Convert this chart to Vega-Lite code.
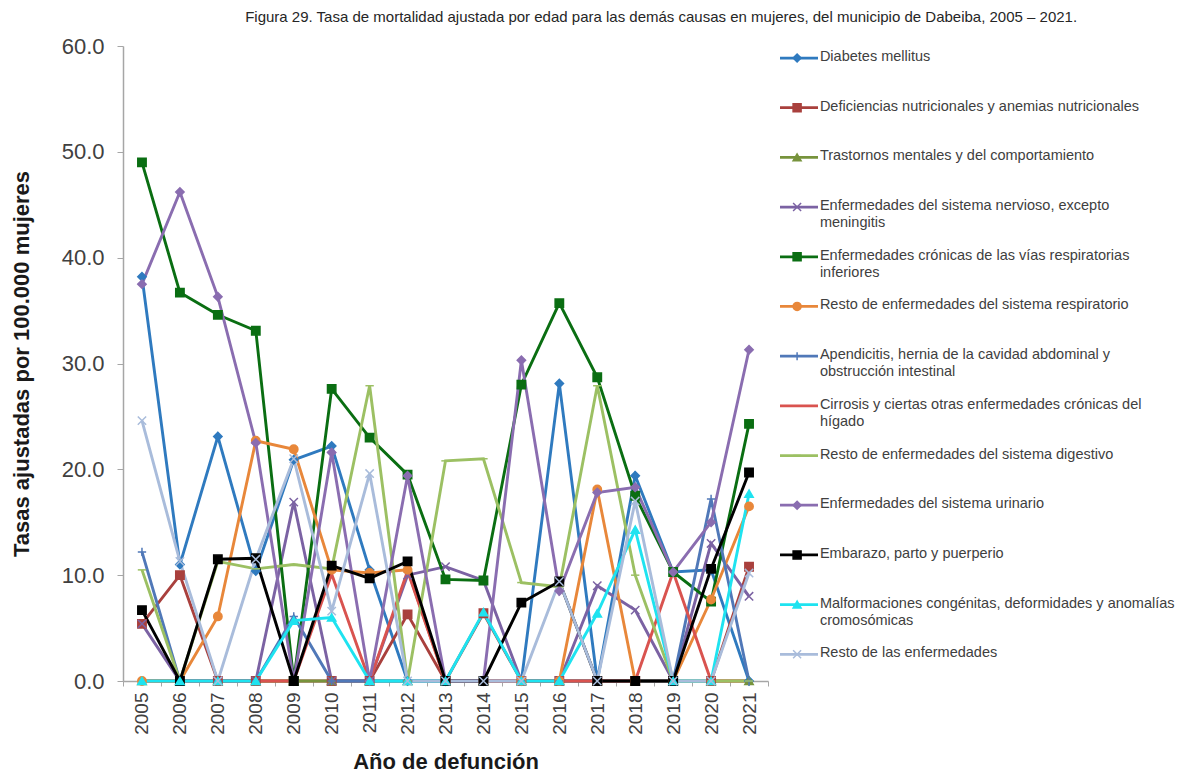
{
  "$schema": "https://vega.github.io/schema/vega-lite/v6.json",
  "background": "white",
  "padding": {"left": 10, "top": 10, "right": 5, "bottom": 0},
  "title": {
    "text": "Figura 29. Tasa de mortalidad ajustada por edad para las demás causas en mujeres, del municipio de Dabeiba, 2005 – 2021.",
    "anchor": "start",
    "dx": 235,
    "font": "Liberation Sans",
    "fontSize": 15,
    "fontWeight": "normal",
    "color": "#262626",
    "offset": 10
  },
  "datasets": {
    "leyenda": [
      {"serie": "Diabetes mellitus", "etiqueta": "Diabetes mellitus"},
      {"serie": "Deficiencias nutricionales y anemias nutricionales", "etiqueta": "Deficiencias nutricionales y anemias nutricionales"},
      {"serie": "Trastornos mentales y del comportamiento", "etiqueta": "Trastornos mentales y del comportamiento"},
      {"serie": "Enfermedades del sistema nervioso, excepto meningitis", "etiqueta": "Enfermedades del sistema nervioso, excepto\nmeningitis"},
      {"serie": "Enfermedades crónicas de las vías respiratorias inferiores", "etiqueta": "Enfermedades crónicas de las vías respiratorias\ninferiores"},
      {"serie": "Resto de enfermedades del sistema respiratorio", "etiqueta": "Resto de enfermedades del sistema respiratorio"},
      {"serie": "Apendicitis, hernia de la cavidad abdominal y obstrucción intestinal", "etiqueta": "Apendicitis, hernia de la cavidad abdominal y\nobstrucción intestinal"},
      {"serie": "Cirrosis y ciertas otras enfermedades crónicas del hígado", "etiqueta": "Cirrosis y ciertas otras enfermedades crónicas del\nhígado"},
      {"serie": "Resto de enfermedades del sistema digestivo", "etiqueta": "Resto de enfermedades del sistema digestivo"},
      {"serie": "Enfermedades del sistema urinario", "etiqueta": "Enfermedades del sistema urinario"},
      {"serie": "Embarazo, parto y puerperio", "etiqueta": "Embarazo, parto y puerperio"},
      {"serie": "Malformaciones congénitas, deformidades y anomalías cromosómicas", "etiqueta": "Malformaciones congénitas, deformidades y anomalías\ncromosómicas"},
      {"serie": "Resto de las enfermedades", "etiqueta": "Resto de las enfermedades"}
    ],
    "tasas": [
      {"serie": "Diabetes mellitus", "anio": 2005, "tasa": 38.2},
      {"serie": "Diabetes mellitus", "anio": 2006, "tasa": 11.0},
      {"serie": "Diabetes mellitus", "anio": 2007, "tasa": 23.1},
      {"serie": "Diabetes mellitus", "anio": 2008, "tasa": 10.4},
      {"serie": "Diabetes mellitus", "anio": 2009, "tasa": 20.9},
      {"serie": "Diabetes mellitus", "anio": 2010, "tasa": 22.2},
      {"serie": "Diabetes mellitus", "anio": 2011, "tasa": 10.5},
      {"serie": "Diabetes mellitus", "anio": 2012, "tasa": 0},
      {"serie": "Diabetes mellitus", "anio": 2013, "tasa": 0},
      {"serie": "Diabetes mellitus", "anio": 2014, "tasa": 0},
      {"serie": "Diabetes mellitus", "anio": 2015, "tasa": 0},
      {"serie": "Diabetes mellitus", "anio": 2016, "tasa": 28.1},
      {"serie": "Diabetes mellitus", "anio": 2017, "tasa": 0},
      {"serie": "Diabetes mellitus", "anio": 2018, "tasa": 19.4},
      {"serie": "Diabetes mellitus", "anio": 2019, "tasa": 10.3},
      {"serie": "Diabetes mellitus", "anio": 2020, "tasa": 10.5},
      {"serie": "Diabetes mellitus", "anio": 2021, "tasa": 0},
      {"serie": "Deficiencias nutricionales y anemias nutricionales", "anio": 2005, "tasa": 5.4},
      {"serie": "Deficiencias nutricionales y anemias nutricionales", "anio": 2006, "tasa": 10.0},
      {"serie": "Deficiencias nutricionales y anemias nutricionales", "anio": 2007, "tasa": 0},
      {"serie": "Deficiencias nutricionales y anemias nutricionales", "anio": 2008, "tasa": 0},
      {"serie": "Deficiencias nutricionales y anemias nutricionales", "anio": 2009, "tasa": 0},
      {"serie": "Deficiencias nutricionales y anemias nutricionales", "anio": 2010, "tasa": 0},
      {"serie": "Deficiencias nutricionales y anemias nutricionales", "anio": 2011, "tasa": 0},
      {"serie": "Deficiencias nutricionales y anemias nutricionales", "anio": 2012, "tasa": 6.3},
      {"serie": "Deficiencias nutricionales y anemias nutricionales", "anio": 2013, "tasa": 0},
      {"serie": "Deficiencias nutricionales y anemias nutricionales", "anio": 2014, "tasa": 6.4},
      {"serie": "Deficiencias nutricionales y anemias nutricionales", "anio": 2015, "tasa": 0},
      {"serie": "Deficiencias nutricionales y anemias nutricionales", "anio": 2016, "tasa": 0},
      {"serie": "Deficiencias nutricionales y anemias nutricionales", "anio": 2017, "tasa": 0},
      {"serie": "Deficiencias nutricionales y anemias nutricionales", "anio": 2018, "tasa": 0},
      {"serie": "Deficiencias nutricionales y anemias nutricionales", "anio": 2019, "tasa": 0},
      {"serie": "Deficiencias nutricionales y anemias nutricionales", "anio": 2020, "tasa": 0},
      {"serie": "Deficiencias nutricionales y anemias nutricionales", "anio": 2021, "tasa": 10.8},
      {"serie": "Trastornos mentales y del comportamiento", "anio": 2005, "tasa": 0},
      {"serie": "Trastornos mentales y del comportamiento", "anio": 2006, "tasa": 0},
      {"serie": "Trastornos mentales y del comportamiento", "anio": 2007, "tasa": 0},
      {"serie": "Trastornos mentales y del comportamiento", "anio": 2008, "tasa": 0},
      {"serie": "Trastornos mentales y del comportamiento", "anio": 2009, "tasa": 0},
      {"serie": "Trastornos mentales y del comportamiento", "anio": 2010, "tasa": 0},
      {"serie": "Trastornos mentales y del comportamiento", "anio": 2011, "tasa": 0},
      {"serie": "Trastornos mentales y del comportamiento", "anio": 2012, "tasa": 0},
      {"serie": "Trastornos mentales y del comportamiento", "anio": 2013, "tasa": 0},
      {"serie": "Trastornos mentales y del comportamiento", "anio": 2014, "tasa": 0},
      {"serie": "Trastornos mentales y del comportamiento", "anio": 2015, "tasa": 0},
      {"serie": "Trastornos mentales y del comportamiento", "anio": 2016, "tasa": 0},
      {"serie": "Trastornos mentales y del comportamiento", "anio": 2017, "tasa": 0},
      {"serie": "Trastornos mentales y del comportamiento", "anio": 2018, "tasa": 0},
      {"serie": "Trastornos mentales y del comportamiento", "anio": 2019, "tasa": 0},
      {"serie": "Trastornos mentales y del comportamiento", "anio": 2020, "tasa": 0},
      {"serie": "Trastornos mentales y del comportamiento", "anio": 2021, "tasa": 0},
      {"serie": "Enfermedades del sistema nervioso, excepto meningitis", "anio": 2005, "tasa": 5.4},
      {"serie": "Enfermedades del sistema nervioso, excepto meningitis", "anio": 2006, "tasa": 0},
      {"serie": "Enfermedades del sistema nervioso, excepto meningitis", "anio": 2007, "tasa": 0},
      {"serie": "Enfermedades del sistema nervioso, excepto meningitis", "anio": 2008, "tasa": 0},
      {"serie": "Enfermedades del sistema nervioso, excepto meningitis", "anio": 2009, "tasa": 16.9},
      {"serie": "Enfermedades del sistema nervioso, excepto meningitis", "anio": 2010, "tasa": 0},
      {"serie": "Enfermedades del sistema nervioso, excepto meningitis", "anio": 2011, "tasa": 0},
      {"serie": "Enfermedades del sistema nervioso, excepto meningitis", "anio": 2012, "tasa": 10.0},
      {"serie": "Enfermedades del sistema nervioso, excepto meningitis", "anio": 2013, "tasa": 10.8},
      {"serie": "Enfermedades del sistema nervioso, excepto meningitis", "anio": 2014, "tasa": 9.5},
      {"serie": "Enfermedades del sistema nervioso, excepto meningitis", "anio": 2015, "tasa": 0},
      {"serie": "Enfermedades del sistema nervioso, excepto meningitis", "anio": 2016, "tasa": 0},
      {"serie": "Enfermedades del sistema nervioso, excepto meningitis", "anio": 2017, "tasa": 9.0},
      {"serie": "Enfermedades del sistema nervioso, excepto meningitis", "anio": 2018, "tasa": 6.7},
      {"serie": "Enfermedades del sistema nervioso, excepto meningitis", "anio": 2019, "tasa": 0},
      {"serie": "Enfermedades del sistema nervioso, excepto meningitis", "anio": 2020, "tasa": 13.0},
      {"serie": "Enfermedades del sistema nervioso, excepto meningitis", "anio": 2021, "tasa": 8.0},
      {"serie": "Enfermedades crónicas de las vías respiratorias inferiores", "anio": 2005, "tasa": 49.0},
      {"serie": "Enfermedades crónicas de las vías respiratorias inferiores", "anio": 2006, "tasa": 36.7},
      {"serie": "Enfermedades crónicas de las vías respiratorias inferiores", "anio": 2007, "tasa": 34.6},
      {"serie": "Enfermedades crónicas de las vías respiratorias inferiores", "anio": 2008, "tasa": 33.1},
      {"serie": "Enfermedades crónicas de las vías respiratorias inferiores", "anio": 2009, "tasa": 0},
      {"serie": "Enfermedades crónicas de las vías respiratorias inferiores", "anio": 2010, "tasa": 27.6},
      {"serie": "Enfermedades crónicas de las vías respiratorias inferiores", "anio": 2011, "tasa": 23.0},
      {"serie": "Enfermedades crónicas de las vías respiratorias inferiores", "anio": 2012, "tasa": 19.5},
      {"serie": "Enfermedades crónicas de las vías respiratorias inferiores", "anio": 2013, "tasa": 9.6},
      {"serie": "Enfermedades crónicas de las vías respiratorias inferiores", "anio": 2014, "tasa": 9.5},
      {"serie": "Enfermedades crónicas de las vías respiratorias inferiores", "anio": 2015, "tasa": 28.0},
      {"serie": "Enfermedades crónicas de las vías respiratorias inferiores", "anio": 2016, "tasa": 35.7},
      {"serie": "Enfermedades crónicas de las vías respiratorias inferiores", "anio": 2017, "tasa": 28.7},
      {"serie": "Enfermedades crónicas de las vías respiratorias inferiores", "anio": 2018, "tasa": 17.5},
      {"serie": "Enfermedades crónicas de las vías respiratorias inferiores", "anio": 2019, "tasa": 10.3},
      {"serie": "Enfermedades crónicas de las vías respiratorias inferiores", "anio": 2020, "tasa": 7.5},
      {"serie": "Enfermedades crónicas de las vías respiratorias inferiores", "anio": 2021, "tasa": 24.3},
      {"serie": "Resto de enfermedades del sistema respiratorio", "anio": 2005, "tasa": 0},
      {"serie": "Resto de enfermedades del sistema respiratorio", "anio": 2006, "tasa": 0},
      {"serie": "Resto de enfermedades del sistema respiratorio", "anio": 2007, "tasa": 6.1},
      {"serie": "Resto de enfermedades del sistema respiratorio", "anio": 2008, "tasa": 22.7},
      {"serie": "Resto de enfermedades del sistema respiratorio", "anio": 2009, "tasa": 21.9},
      {"serie": "Resto de enfermedades del sistema respiratorio", "anio": 2010, "tasa": 10.5},
      {"serie": "Resto de enfermedades del sistema respiratorio", "anio": 2011, "tasa": 10.2},
      {"serie": "Resto de enfermedades del sistema respiratorio", "anio": 2012, "tasa": 10.5},
      {"serie": "Resto de enfermedades del sistema respiratorio", "anio": 2013, "tasa": 0},
      {"serie": "Resto de enfermedades del sistema respiratorio", "anio": 2014, "tasa": 0},
      {"serie": "Resto de enfermedades del sistema respiratorio", "anio": 2015, "tasa": 0},
      {"serie": "Resto de enfermedades del sistema respiratorio", "anio": 2016, "tasa": 0},
      {"serie": "Resto de enfermedades del sistema respiratorio", "anio": 2017, "tasa": 18.1},
      {"serie": "Resto de enfermedades del sistema respiratorio", "anio": 2018, "tasa": 0},
      {"serie": "Resto de enfermedades del sistema respiratorio", "anio": 2019, "tasa": 0},
      {"serie": "Resto de enfermedades del sistema respiratorio", "anio": 2020, "tasa": 7.7},
      {"serie": "Resto de enfermedades del sistema respiratorio", "anio": 2021, "tasa": 16.5},
      {"serie": "Apendicitis, hernia de la cavidad abdominal y obstrucción intestinal", "anio": 2005, "tasa": 12.2},
      {"serie": "Apendicitis, hernia de la cavidad abdominal y obstrucción intestinal", "anio": 2006, "tasa": 0},
      {"serie": "Apendicitis, hernia de la cavidad abdominal y obstrucción intestinal", "anio": 2007, "tasa": 0},
      {"serie": "Apendicitis, hernia de la cavidad abdominal y obstrucción intestinal", "anio": 2008, "tasa": 0},
      {"serie": "Apendicitis, hernia de la cavidad abdominal y obstrucción intestinal", "anio": 2009, "tasa": 6.1},
      {"serie": "Apendicitis, hernia de la cavidad abdominal y obstrucción intestinal", "anio": 2010, "tasa": 0},
      {"serie": "Apendicitis, hernia de la cavidad abdominal y obstrucción intestinal", "anio": 2011, "tasa": 0},
      {"serie": "Apendicitis, hernia de la cavidad abdominal y obstrucción intestinal", "anio": 2012, "tasa": 0},
      {"serie": "Apendicitis, hernia de la cavidad abdominal y obstrucción intestinal", "anio": 2013, "tasa": 0},
      {"serie": "Apendicitis, hernia de la cavidad abdominal y obstrucción intestinal", "anio": 2014, "tasa": 0},
      {"serie": "Apendicitis, hernia de la cavidad abdominal y obstrucción intestinal", "anio": 2015, "tasa": 0},
      {"serie": "Apendicitis, hernia de la cavidad abdominal y obstrucción intestinal", "anio": 2016, "tasa": 0},
      {"serie": "Apendicitis, hernia de la cavidad abdominal y obstrucción intestinal", "anio": 2017, "tasa": 0},
      {"serie": "Apendicitis, hernia de la cavidad abdominal y obstrucción intestinal", "anio": 2018, "tasa": 0},
      {"serie": "Apendicitis, hernia de la cavidad abdominal y obstrucción intestinal", "anio": 2019, "tasa": 0},
      {"serie": "Apendicitis, hernia de la cavidad abdominal y obstrucción intestinal", "anio": 2020, "tasa": 17.2},
      {"serie": "Apendicitis, hernia de la cavidad abdominal y obstrucción intestinal", "anio": 2021, "tasa": 0},
      {"serie": "Cirrosis y ciertas otras enfermedades crónicas del hígado", "anio": 2005, "tasa": 0},
      {"serie": "Cirrosis y ciertas otras enfermedades crónicas del hígado", "anio": 2006, "tasa": 0},
      {"serie": "Cirrosis y ciertas otras enfermedades crónicas del hígado", "anio": 2007, "tasa": 0},
      {"serie": "Cirrosis y ciertas otras enfermedades crónicas del hígado", "anio": 2008, "tasa": 0},
      {"serie": "Cirrosis y ciertas otras enfermedades crónicas del hígado", "anio": 2009, "tasa": 0},
      {"serie": "Cirrosis y ciertas otras enfermedades crónicas del hígado", "anio": 2010, "tasa": 10.1},
      {"serie": "Cirrosis y ciertas otras enfermedades crónicas del hígado", "anio": 2011, "tasa": 0},
      {"serie": "Cirrosis y ciertas otras enfermedades crónicas del hígado", "anio": 2012, "tasa": 10.4},
      {"serie": "Cirrosis y ciertas otras enfermedades crónicas del hígado", "anio": 2013, "tasa": 0},
      {"serie": "Cirrosis y ciertas otras enfermedades crónicas del hígado", "anio": 2014, "tasa": 0},
      {"serie": "Cirrosis y ciertas otras enfermedades crónicas del hígado", "anio": 2015, "tasa": 0},
      {"serie": "Cirrosis y ciertas otras enfermedades crónicas del hígado", "anio": 2016, "tasa": 0},
      {"serie": "Cirrosis y ciertas otras enfermedades crónicas del hígado", "anio": 2017, "tasa": 0},
      {"serie": "Cirrosis y ciertas otras enfermedades crónicas del hígado", "anio": 2018, "tasa": 0},
      {"serie": "Cirrosis y ciertas otras enfermedades crónicas del hígado", "anio": 2019, "tasa": 10.3},
      {"serie": "Cirrosis y ciertas otras enfermedades crónicas del hígado", "anio": 2020, "tasa": 0},
      {"serie": "Cirrosis y ciertas otras enfermedades crónicas del hígado", "anio": 2021, "tasa": 0},
      {"serie": "Resto de enfermedades del sistema digestivo", "anio": 2005, "tasa": 10.5},
      {"serie": "Resto de enfermedades del sistema digestivo", "anio": 2006, "tasa": 0},
      {"serie": "Resto de enfermedades del sistema digestivo", "anio": 2007, "tasa": 11.3},
      {"serie": "Resto de enfermedades del sistema digestivo", "anio": 2008, "tasa": 10.6},
      {"serie": "Resto de enfermedades del sistema digestivo", "anio": 2009, "tasa": 11.0},
      {"serie": "Resto de enfermedades del sistema digestivo", "anio": 2010, "tasa": 10.6},
      {"serie": "Resto de enfermedades del sistema digestivo", "anio": 2011, "tasa": 27.9},
      {"serie": "Resto de enfermedades del sistema digestivo", "anio": 2012, "tasa": 0},
      {"serie": "Resto de enfermedades del sistema digestivo", "anio": 2013, "tasa": 20.8},
      {"serie": "Resto de enfermedades del sistema digestivo", "anio": 2014, "tasa": 21.0},
      {"serie": "Resto de enfermedades del sistema digestivo", "anio": 2015, "tasa": 9.3},
      {"serie": "Resto de enfermedades del sistema digestivo", "anio": 2016, "tasa": 8.9},
      {"serie": "Resto de enfermedades del sistema digestivo", "anio": 2017, "tasa": 27.9},
      {"serie": "Resto de enfermedades del sistema digestivo", "anio": 2018, "tasa": 10.0},
      {"serie": "Resto de enfermedades del sistema digestivo", "anio": 2019, "tasa": 0},
      {"serie": "Resto de enfermedades del sistema digestivo", "anio": 2020, "tasa": 0},
      {"serie": "Resto de enfermedades del sistema digestivo", "anio": 2021, "tasa": 0},
      {"serie": "Enfermedades del sistema urinario", "anio": 2005, "tasa": 37.5},
      {"serie": "Enfermedades del sistema urinario", "anio": 2006, "tasa": 46.2},
      {"serie": "Enfermedades del sistema urinario", "anio": 2007, "tasa": 36.3},
      {"serie": "Enfermedades del sistema urinario", "anio": 2008, "tasa": 22.5},
      {"serie": "Enfermedades del sistema urinario", "anio": 2009, "tasa": 0},
      {"serie": "Enfermedades del sistema urinario", "anio": 2010, "tasa": 21.6},
      {"serie": "Enfermedades del sistema urinario", "anio": 2011, "tasa": 0},
      {"serie": "Enfermedades del sistema urinario", "anio": 2012, "tasa": 19.4},
      {"serie": "Enfermedades del sistema urinario", "anio": 2013, "tasa": 0},
      {"serie": "Enfermedades del sistema urinario", "anio": 2014, "tasa": 0},
      {"serie": "Enfermedades del sistema urinario", "anio": 2015, "tasa": 30.3},
      {"serie": "Enfermedades del sistema urinario", "anio": 2016, "tasa": 8.5},
      {"serie": "Enfermedades del sistema urinario", "anio": 2017, "tasa": 17.8},
      {"serie": "Enfermedades del sistema urinario", "anio": 2018, "tasa": 18.3},
      {"serie": "Enfermedades del sistema urinario", "anio": 2019, "tasa": 10.3},
      {"serie": "Enfermedades del sistema urinario", "anio": 2020, "tasa": 15.0},
      {"serie": "Enfermedades del sistema urinario", "anio": 2021, "tasa": 31.3},
      {"serie": "Embarazo, parto y puerperio", "anio": 2005, "tasa": 6.7},
      {"serie": "Embarazo, parto y puerperio", "anio": 2006, "tasa": 0},
      {"serie": "Embarazo, parto y puerperio", "anio": 2007, "tasa": 11.5},
      {"serie": "Embarazo, parto y puerperio", "anio": 2008, "tasa": 11.6},
      {"serie": "Embarazo, parto y puerperio", "anio": 2009, "tasa": 0},
      {"serie": "Embarazo, parto y puerperio", "anio": 2010, "tasa": 10.9},
      {"serie": "Embarazo, parto y puerperio", "anio": 2011, "tasa": 9.7},
      {"serie": "Embarazo, parto y puerperio", "anio": 2012, "tasa": 11.3},
      {"serie": "Embarazo, parto y puerperio", "anio": 2013, "tasa": 0},
      {"serie": "Embarazo, parto y puerperio", "anio": 2014, "tasa": 0},
      {"serie": "Embarazo, parto y puerperio", "anio": 2015, "tasa": 7.4},
      {"serie": "Embarazo, parto y puerperio", "anio": 2016, "tasa": 9.4},
      {"serie": "Embarazo, parto y puerperio", "anio": 2017, "tasa": 0},
      {"serie": "Embarazo, parto y puerperio", "anio": 2018, "tasa": 0},
      {"serie": "Embarazo, parto y puerperio", "anio": 2019, "tasa": 0},
      {"serie": "Embarazo, parto y puerperio", "anio": 2020, "tasa": 10.6},
      {"serie": "Embarazo, parto y puerperio", "anio": 2021, "tasa": 19.7},
      {"serie": "Malformaciones congénitas, deformidades y anomalías cromosómicas", "anio": 2005, "tasa": 0},
      {"serie": "Malformaciones congénitas, deformidades y anomalías cromosómicas", "anio": 2006, "tasa": 0},
      {"serie": "Malformaciones congénitas, deformidades y anomalías cromosómicas", "anio": 2007, "tasa": 0},
      {"serie": "Malformaciones congénitas, deformidades y anomalías cromosómicas", "anio": 2008, "tasa": 0},
      {"serie": "Malformaciones congénitas, deformidades y anomalías cromosómicas", "anio": 2009, "tasa": 5.7},
      {"serie": "Malformaciones congénitas, deformidades y anomalías cromosómicas", "anio": 2010, "tasa": 6.0},
      {"serie": "Malformaciones congénitas, deformidades y anomalías cromosómicas", "anio": 2011, "tasa": 0},
      {"serie": "Malformaciones congénitas, deformidades y anomalías cromosómicas", "anio": 2012, "tasa": 0},
      {"serie": "Malformaciones congénitas, deformidades y anomalías cromosómicas", "anio": 2013, "tasa": 0},
      {"serie": "Malformaciones congénitas, deformidades y anomalías cromosómicas", "anio": 2014, "tasa": 6.5},
      {"serie": "Malformaciones congénitas, deformidades y anomalías cromosómicas", "anio": 2015, "tasa": 0},
      {"serie": "Malformaciones congénitas, deformidades y anomalías cromosómicas", "anio": 2016, "tasa": 0},
      {"serie": "Malformaciones congénitas, deformidades y anomalías cromosómicas", "anio": 2017, "tasa": 6.4},
      {"serie": "Malformaciones congénitas, deformidades y anomalías cromosómicas", "anio": 2018, "tasa": 14.3},
      {"serie": "Malformaciones congénitas, deformidades y anomalías cromosómicas", "anio": 2019, "tasa": 0},
      {"serie": "Malformaciones congénitas, deformidades y anomalías cromosómicas", "anio": 2020, "tasa": 0},
      {"serie": "Malformaciones congénitas, deformidades y anomalías cromosómicas", "anio": 2021, "tasa": 17.7},
      {"serie": "Resto de las enfermedades", "anio": 2005, "tasa": 24.6},
      {"serie": "Resto de las enfermedades", "anio": 2006, "tasa": 11.3},
      {"serie": "Resto de las enfermedades", "anio": 2007, "tasa": 0},
      {"serie": "Resto de las enfermedades", "anio": 2008, "tasa": 11.5},
      {"serie": "Resto de las enfermedades", "anio": 2009, "tasa": 21.0},
      {"serie": "Resto de las enfermedades", "anio": 2010, "tasa": 6.6},
      {"serie": "Resto de las enfermedades", "anio": 2011, "tasa": 19.6},
      {"serie": "Resto de las enfermedades", "anio": 2012, "tasa": 0},
      {"serie": "Resto de las enfermedades", "anio": 2013, "tasa": 0},
      {"serie": "Resto de las enfermedades", "anio": 2014, "tasa": 0},
      {"serie": "Resto de las enfermedades", "anio": 2015, "tasa": 0},
      {"serie": "Resto de las enfermedades", "anio": 2016, "tasa": 9.4},
      {"serie": "Resto de las enfermedades", "anio": 2017, "tasa": 0},
      {"serie": "Resto de las enfermedades", "anio": 2018, "tasa": 17.0},
      {"serie": "Resto de las enfermedades", "anio": 2019, "tasa": 0},
      {"serie": "Resto de las enfermedades", "anio": 2020, "tasa": 0},
      {"serie": "Resto de las enfermedades", "anio": 2021, "tasa": 10.2}
    ]
  },
  "spacing": 9,
  "hconcat": [
    {
      "width": 645,
      "height": 635,
      "data": {"name": "tasas"},
      "encoding": {
        "x": {
          "field": "anio",
          "type": "ordinal",
          "bandPosition": 0.5,
          "scale": {"type": "band", "paddingInner": 0, "paddingOuter": 0},
          "axis": {
            "title": "Año de defunción",
            "labelAngle": -90,
            "labelFont": "Liberation Sans",
            "labelFontSize": 19,
            "labelColor": "#404040",
            "labelPadding": 6,
            "tickBand": "extent",
            "tickSize": 5,
            "tickColor": "#A6A6A6",
            "domainColor": "#A6A6A6",
            "domainWidth": 1.5,
            "titleFont": "Liberation Sans",
            "titleFontSize": 22,
            "titleFontWeight": "bold",
            "titleColor": "#1a1a1a",
            "titlePadding": 17
          }
        },
        "y": {
          "field": "tasa",
          "type": "quantitative",
          "scale": {"domain": [0, 60], "nice": false},
          "axis": {
            "title": "Tasas ajustadas por 100.000 mujeres",
            "values": [0, 10, 20, 30, 40, 50, 60],
            "format": ".1f",
            "grid": false,
            "labelFont": "Liberation Sans",
            "labelFontSize": 22,
            "labelColor": "#404040",
            "labelPadding": 13,
            "tickSize": 6,
            "tickColor": "#A6A6A6",
            "domainColor": "#A6A6A6",
            "domainWidth": 1.5,
            "titleFont": "Liberation Sans",
            "titleFontSize": 22,
            "titleFontWeight": "bold",
            "titleColor": "#1a1a1a",
            "titlePadding": 28
          }
        }
      },
      "layer": [
        {
          "mark": {"type": "line", "strokeWidth": 2.9},
          "encoding": {
            "color": {
              "field": "serie",
              "type": "nominal",
              "legend": null,
              "scale": {
                "domain": ["Diabetes mellitus", "Deficiencias nutricionales y anemias nutricionales", "Trastornos mentales y del comportamiento", "Enfermedades del sistema nervioso, excepto meningitis", "Enfermedades crónicas de las vías respiratorias inferiores", "Resto de enfermedades del sistema respiratorio", "Apendicitis, hernia de la cavidad abdominal y obstrucción intestinal", "Cirrosis y ciertas otras enfermedades crónicas del hígado", "Resto de enfermedades del sistema digestivo", "Enfermedades del sistema urinario", "Embarazo, parto y puerperio", "Malformaciones congénitas, deformidades y anomalías cromosómicas", "Resto de las enfermedades"],
                "range": ["#2F7ABF", "#A9403D", "#77933C", "#7B62A3", "#0A6E12", "#E8873A", "#5078B8", "#D9534F", "#9CC063", "#8A6DB0", "#000000", "#1EE3F0", "#A9BCDB"]
              }
            }
          }
        },
        {
          "mark": {"type": "point", "filled": true, "size": 70, "opacity": 1, "strokeWidth": 1.5},
          "encoding": {
            "shape": {
              "field": "serie",
              "type": "nominal",
              "legend": null,
              "scale": {
                "domain": ["Diabetes mellitus", "Deficiencias nutricionales y anemias nutricionales", "Trastornos mentales y del comportamiento", "Enfermedades del sistema nervioso, excepto meningitis", "Enfermedades crónicas de las vías respiratorias inferiores", "Resto de enfermedades del sistema respiratorio", "Apendicitis, hernia de la cavidad abdominal y obstrucción intestinal", "Cirrosis y ciertas otras enfermedades crónicas del hígado", "Resto de enfermedades del sistema digestivo", "Enfermedades del sistema urinario", "Embarazo, parto y puerperio", "Malformaciones congénitas, deformidades y anomalías cromosómicas", "Resto de las enfermedades"],
                "range": ["diamond", "square", "triangle-up", "M-1,-1L1,1M-1,1L1,-1", "square", "circle", "M-1,0H1M0,-1V1", "M0,0", "M-1,0H1", "diamond", "square", "triangle-up", "M-1,-1L1,1M-1,1L1,-1"]
              }
            },
            "fill": {
              "field": "serie",
              "type": "nominal",
              "legend": null,
              "scale": {
                "domain": ["Diabetes mellitus", "Deficiencias nutricionales y anemias nutricionales", "Trastornos mentales y del comportamiento", "Enfermedades del sistema nervioso, excepto meningitis", "Enfermedades crónicas de las vías respiratorias inferiores", "Resto de enfermedades del sistema respiratorio", "Apendicitis, hernia de la cavidad abdominal y obstrucción intestinal", "Cirrosis y ciertas otras enfermedades crónicas del hígado", "Resto de enfermedades del sistema digestivo", "Enfermedades del sistema urinario", "Embarazo, parto y puerperio", "Malformaciones congénitas, deformidades y anomalías cromosómicas", "Resto de las enfermedades"],
                "range": ["#2F7ABF", "#A9403D", "#77933C", "#7B62A3", "#0A6E12", "#E8873A", "#5078B8", "#D9534F", "#9CC063", "#8A6DB0", "#000000", "#1EE3F0", "#A9BCDB"]
              }
            },
            "stroke": {
              "field": "serie",
              "type": "nominal",
              "legend": null,
              "scale": {
                "domain": ["Diabetes mellitus", "Deficiencias nutricionales y anemias nutricionales", "Trastornos mentales y del comportamiento", "Enfermedades del sistema nervioso, excepto meningitis", "Enfermedades crónicas de las vías respiratorias inferiores", "Resto de enfermedades del sistema respiratorio", "Apendicitis, hernia de la cavidad abdominal y obstrucción intestinal", "Cirrosis y ciertas otras enfermedades crónicas del hígado", "Resto de enfermedades del sistema digestivo", "Enfermedades del sistema urinario", "Embarazo, parto y puerperio", "Malformaciones congénitas, deformidades y anomalías cromosómicas", "Resto de las enfermedades"],
                "range": ["#2F7ABF", "#A9403D", "#77933C", "#7B62A3", "#0A6E12", "#E8873A", "#5078B8", "#D9534F", "#9CC063", "#8A6DB0", "#000000", "#1EE3F0", "#A9BCDB"]
              }
            }
          }
        }
      ]
    },
    {
      "width": 380,
      "height": 635,
      "data": {"name": "leyenda"},
      "encoding": {
        "y": {
          "field": "serie",
          "type": "nominal",
          "axis": null,
          "scale": {
            "type": "point",
            "padding": 0.39,
            "align": 0.31,
            "domain": ["Diabetes mellitus", "Deficiencias nutricionales y anemias nutricionales", "Trastornos mentales y del comportamiento", "Enfermedades del sistema nervioso, excepto meningitis", "Enfermedades crónicas de las vías respiratorias inferiores", "Resto de enfermedades del sistema respiratorio", "Apendicitis, hernia de la cavidad abdominal y obstrucción intestinal", "Cirrosis y ciertas otras enfermedades crónicas del hígado", "Resto de enfermedades del sistema digestivo", "Enfermedades del sistema urinario", "Embarazo, parto y puerperio", "Malformaciones congénitas, deformidades y anomalías cromosómicas", "Resto de las enfermedades"]
          }
        }
      },
      "layer": [
        {
          "mark": {"type": "rule", "strokeWidth": 2.75},
          "encoding": {
            "x": {"datum": 0, "type": "quantitative", "scale": {"domain": [0, 10], "nice": false, "zero": false}, "axis": null},
            "x2": {"datum": 1},
            "color": {
              "field": "serie",
              "type": "nominal",
              "legend": null,
              "scale": {
                "domain": ["Diabetes mellitus", "Deficiencias nutricionales y anemias nutricionales", "Trastornos mentales y del comportamiento", "Enfermedades del sistema nervioso, excepto meningitis", "Enfermedades crónicas de las vías respiratorias inferiores", "Resto de enfermedades del sistema respiratorio", "Apendicitis, hernia de la cavidad abdominal y obstrucción intestinal", "Cirrosis y ciertas otras enfermedades crónicas del hígado", "Resto de enfermedades del sistema digestivo", "Enfermedades del sistema urinario", "Embarazo, parto y puerperio", "Malformaciones congénitas, deformidades y anomalías cromosómicas", "Resto de las enfermedades"],
                "range": ["#2F7ABF", "#A9403D", "#77933C", "#7B62A3", "#0A6E12", "#E8873A", "#5078B8", "#D9534F", "#9CC063", "#8A6DB0", "#000000", "#1EE3F0", "#A9BCDB"]
              }
            }
          }
        },
        {
          "mark": {"type": "point", "filled": true, "size": 64, "opacity": 1, "strokeWidth": 1.5},
          "encoding": {
            "x": {"datum": 0.45, "type": "quantitative"},
            "shape": {
              "field": "serie",
              "type": "nominal",
              "legend": null,
              "scale": {
                "domain": ["Diabetes mellitus", "Deficiencias nutricionales y anemias nutricionales", "Trastornos mentales y del comportamiento", "Enfermedades del sistema nervioso, excepto meningitis", "Enfermedades crónicas de las vías respiratorias inferiores", "Resto de enfermedades del sistema respiratorio", "Apendicitis, hernia de la cavidad abdominal y obstrucción intestinal", "Cirrosis y ciertas otras enfermedades crónicas del hígado", "Resto de enfermedades del sistema digestivo", "Enfermedades del sistema urinario", "Embarazo, parto y puerperio", "Malformaciones congénitas, deformidades y anomalías cromosómicas", "Resto de las enfermedades"],
                "range": ["diamond", "square", "triangle-up", "M-1,-1L1,1M-1,1L1,-1", "square", "circle", "M-1,0H1M0,-1V1", "M0,0", "M-1,0H1", "diamond", "square", "triangle-up", "M-1,-1L1,1M-1,1L1,-1"]
              }
            },
            "fill": {
              "field": "serie",
              "type": "nominal",
              "legend": null,
              "scale": {
                "domain": ["Diabetes mellitus", "Deficiencias nutricionales y anemias nutricionales", "Trastornos mentales y del comportamiento", "Enfermedades del sistema nervioso, excepto meningitis", "Enfermedades crónicas de las vías respiratorias inferiores", "Resto de enfermedades del sistema respiratorio", "Apendicitis, hernia de la cavidad abdominal y obstrucción intestinal", "Cirrosis y ciertas otras enfermedades crónicas del hígado", "Resto de enfermedades del sistema digestivo", "Enfermedades del sistema urinario", "Embarazo, parto y puerperio", "Malformaciones congénitas, deformidades y anomalías cromosómicas", "Resto de las enfermedades"],
                "range": ["#2F7ABF", "#A9403D", "#77933C", "#7B62A3", "#0A6E12", "#E8873A", "#5078B8", "#D9534F", "#9CC063", "#8A6DB0", "#000000", "#1EE3F0", "#A9BCDB"]
              }
            },
            "stroke": {
              "field": "serie",
              "type": "nominal",
              "legend": null,
              "scale": {
                "domain": ["Diabetes mellitus", "Deficiencias nutricionales y anemias nutricionales", "Trastornos mentales y del comportamiento", "Enfermedades del sistema nervioso, excepto meningitis", "Enfermedades crónicas de las vías respiratorias inferiores", "Resto de enfermedades del sistema respiratorio", "Apendicitis, hernia de la cavidad abdominal y obstrucción intestinal", "Cirrosis y ciertas otras enfermedades crónicas del hígado", "Resto de enfermedades del sistema digestivo", "Enfermedades del sistema urinario", "Embarazo, parto y puerperio", "Malformaciones congénitas, deformidades y anomalías cromosómicas", "Resto de las enfermedades"],
                "range": ["#2F7ABF", "#A9403D", "#77933C", "#7B62A3", "#0A6E12", "#E8873A", "#5078B8", "#D9534F", "#9CC063", "#8A6DB0", "#000000", "#1EE3F0", "#A9BCDB"]
              }
            }
          }
        },
        {
          "mark": {"type": "text", "align": "left", "baseline": "top", "dy": -8, "fontSize": 14.5, "lineBreak": "\n", "lineHeight": 17, "font": "Liberation Sans", "color": "#404040"},
          "encoding": {
            "x": {"datum": 1.05, "type": "quantitative"},
            "text": {"field": "etiqueta"}
          }
        }
      ]
    }
  ],
  "config": {
    "view": {"stroke": null},
    "font": "Liberation Sans"
  }
}
